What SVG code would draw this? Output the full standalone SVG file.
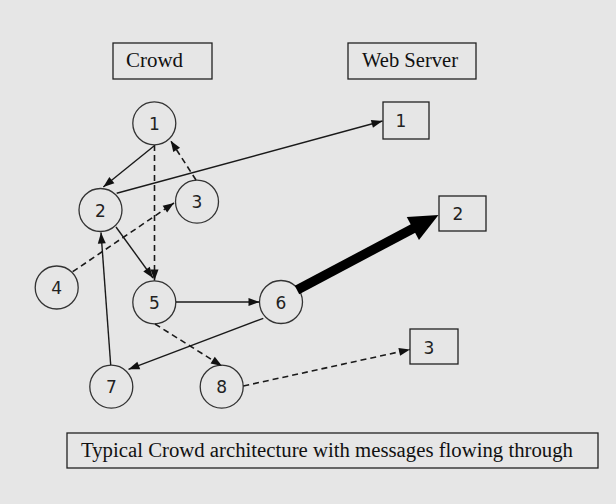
<svg xmlns="http://www.w3.org/2000/svg" width="616" height="504" viewBox="0 0 616 504">
<defs>
<marker id="ah" markerUnits="userSpaceOnUse" markerWidth="12" markerHeight="9" refX="11" refY="4" orient="auto" viewBox="0 0 12 9" overflow="visible">
<path d="M0,0 L11,4 L0,8 z" fill="#111"/>
</marker>
<marker id="big" markerUnits="userSpaceOnUse" markerWidth="32" markerHeight="28" refX="4" refY="13" orient="auto" viewBox="0 0 32 28" overflow="visible">
<path d="M0,0 L29,13 L0,26 z" fill="#000"/>
</marker>
<style>
.bg{fill:#e6e6e6}
.box{fill:none;stroke:#222;stroke-width:1.3}
.node{fill:none;stroke:#333;stroke-width:1.3}
.lbl{font-family:"Liberation Serif","Times New Roman",serif;font-size:20px;fill:#111}
.num{font-family:"DejaVu Sans","Liberation Sans",sans-serif;font-size:17px;fill:#222;text-anchor:middle}
.e{stroke:#1a1a1a;stroke-width:1.4;fill:none;marker-end:url(#ah)}
.d{stroke-dasharray:6 4;stroke-width:1.6}
</style>
</defs>
<rect class="bg" x="0" y="0" width="616" height="504"/>

<g id="title-crowd">
<rect class="box" x="113" y="43" width="99" height="36"/>
<text class="lbl" x="126" y="67" textLength="57" lengthAdjust="spacingAndGlyphs">Crowd</text>
</g>
<g id="title-webserver">
<rect class="box" x="348" y="43" width="128" height="36"/>
<text class="lbl" x="362" y="67" textLength="96" lengthAdjust="spacingAndGlyphs">Web Server</text>
</g>

<g id="n1"><circle class="node" cx="154.3" cy="123.3" r="21.5"/><text class="num" x="154.3" y="130">1</text></g>
<g id="n2"><circle class="node" cx="100.5" cy="210" r="21.5"/><text class="num" x="100.5" y="216.5">2</text></g>
<g id="n3"><circle class="node" cx="197" cy="201.7" r="21.5"/><text class="num" x="197" y="208">3</text></g>
<g id="n4"><circle class="node" cx="56.7" cy="287.5" r="21.5"/><text class="num" x="56.7" y="294">4</text></g>
<g id="n5"><circle class="node" cx="154.3" cy="302.3" r="21.5"/><text class="num" x="154.3" y="309">5</text></g>
<g id="n6"><circle class="node" cx="281" cy="302" r="21.5"/><text class="num" x="281" y="308.5">6</text></g>
<g id="n7"><circle class="node" cx="111.3" cy="386.7" r="21.5"/><text class="num" x="111.3" y="393">7</text></g>
<g id="n8"><circle class="node" cx="221.7" cy="386.7" r="21.5"/><text class="num" x="221.7" y="393">8</text></g>

<g id="s1"><rect class="box" x="383" y="102" width="46" height="37"/><text class="num" x="401" y="127">1</text></g>
<g id="s2"><rect class="box" x="439" y="196" width="47" height="35"/><text class="num" x="458" y="220">2</text></g>
<g id="s3"><rect class="box" x="410" y="329" width="48" height="35"/><text class="num" x="429" y="354">3</text></g>

<g id="connectors">
<line class="e" x1="154" y1="146" x2="103.3" y2="187"/>
<line class="e" x1="116.7" y1="193.3" x2="382.5" y2="121"/>
<line class="e d" x1="154.5" y1="145" x2="154.5" y2="280.5"/>
<line class="e d" x1="196" y1="180" x2="170.7" y2="140.7"/>
<line class="e d" x1="72.7" y1="271.7" x2="174" y2="203"/>
<line class="e" x1="116" y1="227" x2="153" y2="278"/>
<line class="e" x1="110.7" y1="365" x2="101" y2="232.5"/>
<line class="e" x1="176" y1="302" x2="259.5" y2="302"/>
<line class="e" x1="263.3" y1="318.3" x2="128.5" y2="369.3"/>
<line class="e d" x1="155" y1="324" x2="222" y2="366"/>
<line class="e d" x1="243.3" y1="386" x2="410" y2="349.5"/>
<line x1="297" y1="290" x2="416.4" y2="226.7" stroke="#000" stroke-width="9.5" marker-end="url(#big)"/>
</g>

<g id="caption">
<rect class="box" x="67" y="433" width="531" height="35"/>
<text class="lbl" x="81" y="457" textLength="492" lengthAdjust="spacingAndGlyphs">Typical Crowd architecture with messages flowing through</text>
</g>
</svg>
